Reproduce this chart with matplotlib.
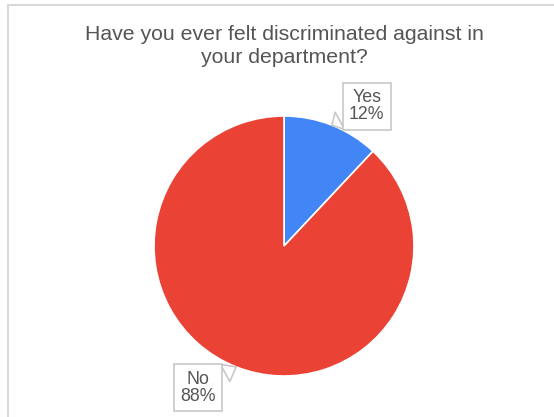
import matplotlib
matplotlib.use("Agg")
import matplotlib.pyplot as plt
import numpy as np
from matplotlib.lines import Line2D

labels = ["Yes", "No"]
shares = [12, 88]
colors = ["#4285F4", "#EA4335"]
title = "Have you ever felt discriminated against in\nyour department?"

W, H = 554, 417
fig = plt.figure(figsize=(W / 100, H / 100), dpi=100)

# light grey frame on top and left, like the cropped sheet
fig.add_artist(Line2D([7.5 / W, 7.5 / W], [0, 1 - 4.5 / H], color="#d9d9d9", lw=1.5))
fig.add_artist(Line2D([7.5 / W, 1], [1 - 4.5 / H, 1 - 4.5 / H], color="#d9d9d9", lw=1.5))

fig.text(284 / W, 1 - 46 / H, title, ha="center", va="center",
         fontsize=15.3, color="#555555", family="Liberation Sans", linespacing=1.3)

cx, cy, r = 284, 246, 130
ax = fig.add_axes([(cx - r) / W, (H - cy - r) / H, 2 * r / W, 2 * r / H])
wedges, _ = ax.pie(shares, colors=colors, startangle=90, counterclock=False,
                   wedgeprops=dict(edgecolor="white", linewidth=1.2))
ax.set_xlim(-1, 1)
ax.set_ylim(-1, 1)
ax.set_aspect("equal")
ax.axis("off")

offsets = [(35, 19), (-38, -21)]
for w, lab, val, off in zip(wedges, labels, shares, offsets):
    ang = np.deg2rad((w.theta1 + w.theta2) / 2)
    tip = (np.cos(ang), np.sin(ang))
    ax.annotate(f"{lab}\n{val}%", xy=tip, xycoords="data",
                xytext=(off[0] * 0.72, off[1] * 0.72), textcoords="offset points",
                ha="center", va="center", fontsize=12.8, color="#555555",
                family="Liberation Sans", linespacing=1.05,
                bbox=dict(boxstyle="square,pad=0.35", fc="white", ec="#c8c8c8", lw=1.2),
                arrowprops=dict(arrowstyle="wedge,tail_width=1.1,shrink_factor=0.5",
                                fc="white", ec="#c8c8c8", lw=1.2, shrinkB=0),
                annotation_clip=False)

fig.savefig("out.png", dpi=100)
